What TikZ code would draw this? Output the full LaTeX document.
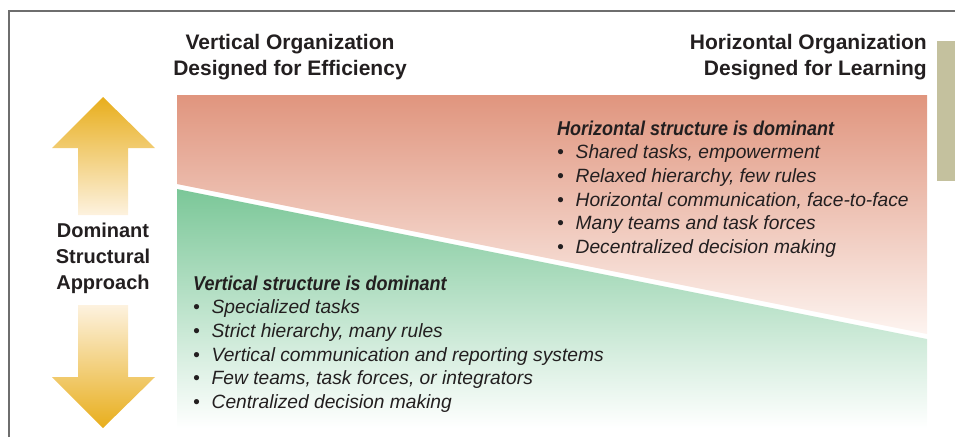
\documentclass[tikz,border=0pt]{standalone}
\usepackage{fontspec}
\setmainfont{Liberation Sans}
\newfontfamily\condfont[FakeStretch=0.9]{Liberation Sans}
\definecolor{framegray}{HTML}{6E6E6E}
\definecolor{olive}{HTML}{C4C19E}
\definecolor{salmon}{HTML}{E0957E}
\definecolor{salmonlt}{HTML}{FDF4F0}
\definecolor{mint}{HTML}{7BC798}
\definecolor{gold}{HTML}{E8AE1C}
\definecolor{cream}{HTML}{FDF2DF}
\definecolor{ink}{HTML}{231F20}
\newcommand{\bitem}{\makebox[18.5pt][l]{\textbullet}}
\newcommand{\ltitle}[1]{{\condfont\fontsize{20}{23.6}\selectfont\bfseries\itshape #1}}

\begin{document}
\begin{tikzpicture}[x=1pt,y=-1pt,
  hdr/.style={font=\fontsize{21}{26}\selectfont\bfseries, text=ink, inner sep=0pt},
  list/.style={font=\fontsize{19.2}{23.6}\selectfont\itshape, text=ink, inner sep=0pt, align=left, anchor=north west}]
\useasboundingbox (0,0) rectangle (955,437);

% frame and side tab
\draw[framegray, line width=1.6pt] (9,437) -- (9,11) -- (955,11);
\fill[olive] (937,41) rectangle (955,181);

% the two regions
\shade[top color=salmon, bottom color=salmonlt] (177,95) -- (927,95) -- (927,334) -- (177,184) -- cycle;
\shade[top color=mint, bottom color=white] (177,189) -- (927,339) -- (927,428) -- (177,428) -- cycle;

% arrows
\shade[top color=gold, bottom color=cream] (103,97) -- (155,148) -- (128,148) -- (128,215)
  -- (78,215) -- (78,148) -- (52,148) -- cycle;
\shade[top color=cream, bottom color=gold] (78,305) -- (128,305) -- (128,377) -- (155,377)
  -- (103,428) -- (52,377) -- (78,377) -- cycle;

\node[hdr, align=center, anchor=north] (vhead) at (290,34) {Vertical Organization\\Designed for Efficiency};
\node[hdr, align=right, anchor=north east] (hhead) at (927,34) {Horizontal Organization\\Designed for Learning};
\node[hdr, font=\fontsize{20}{26}\selectfont\bfseries, align=center] (axis) at (103,258) {Dominant\\Structural\\Approach};

\node[list] (hlist) at (557,120.5) {\ltitle{Horizontal structure is dominant}\\
\bitem Shared tasks, empowerment\\
\bitem Relaxed hierarchy, few rules\\
\bitem Horizontal communication, face-to-face\\
\bitem Many teams and task forces\\
\bitem Decentralized decision making};

\node[list] (vlist) at (193,275.5) {\ltitle{Vertical structure is dominant}\\
\bitem Specialized tasks\\
\bitem Strict hierarchy, many rules\\
\bitem Vertical communication and reporting systems\\
\bitem Few teams, task forces, or integrators\\
\bitem Centralized decision making};
\end{tikzpicture}
\end{document}
